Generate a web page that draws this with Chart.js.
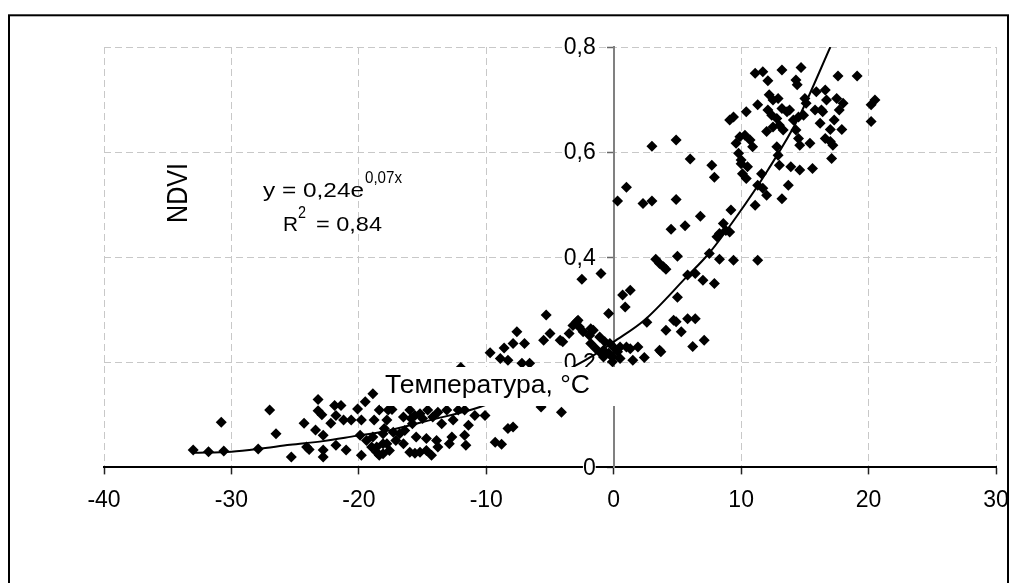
<!DOCTYPE html>
<html>
<head>
<meta charset="utf-8">
<script src="https://cdn.jsdelivr.net/npm/chart.js@4.4.1/dist/chart.umd.min.js"></script>
<style>
  html, body { margin: 0; padding: 0; background: #fff; }
  canvas { display: block; }
</style>
</head>
<body>
<canvas id="grafico" width="1017" height="583"></canvas>
<script>
// pontos: temperatura (°C) e NDVI
const temperatura = [
  -33.0, -31.8, -30.6, -30.8, -27.9, -27.0, -26.5, -25.3, -24.3, -24.1, -23.9, -23.4, -23.2, -23.2,
  -22.9, -22.8, -22.8, -22.8, -22.2, -21.9, -21.4, -21.8, -21.2, -21.8, -21.0, -20.6, -20.1, -19.8,
  -19.5, -18.9, -19.9, -19.8, -19.4, -19.0, -18.6, -18.8, -18.4, -17.7, -17.4, -18.1, -18.1, -18.4,
  -17.6, -17.1, -16.8, -16.4, -16.5, -16.5, -15.9, -15.6, -16.0, -15.6, -15.2, -16.0, -15.2, -14.6,
  -13.8, -13.1, -12.2, -11.7, -10.9, -10.1, -17.8, -15.8, -15.0, -14.2, -13.5, -12.6, -11.4, -18.9,
  -18.0, -17.3, -17.8, -15.5, -14.7, -13.9, -12.7, -11.7, -11.6, -18.6, -18.1, -14.7, -14.3, -13.8,
  -12.9, -9.3, -8.8, -8.3, -7.9, -5.7, -4.1, -12.0,
  -5.3, -7.6, -7.9, -7.0, -8.6, -9.7, -8.9, -8.3, -7.2, -6.6, -5.0, -5.5, -4.2, -4.0,
  -3.2, -2.8, -2.7, -3.5, -2.4, -1.9, -1.8, -1.1, -0.4, -0.8, -0.4, -0.1, 0.1, -2.9,
  -1.8, -0.7, -1.0, -0.1, -2.5, -1.0, -1.6, -1.4, -0.3,
  0.7, 1.3, 0.9, 0.5, 1.0, 1.3, 1.9, 0.5, 1.5, 2.4, 2.6, 3.6, 3.7, 4.1, 4.7, 4.9, 5.3, 5.8,
  6.4, 5.0, 5.8, 6.4, 7.0, 7.9, 6.2, 7.1, 0.3, -0.8, 1.0, 0.3, 2.3, 3.0, 4.9, 6.8, 5.6, 4.5,
  3.3, 3.6, 3.9, 4.1, 5.0, 7.5, 8.3, 9.4, 11.3, 8.1, 8.3, 8.6, 8.8, 9.1, 9.2, 7.9, 7.7, 10.0,
  10.4, 10.5, 11.1, 11.3, 11.7, 11.6, 12.0, 3.0, 4.9, 6.0,
  9.1, 9.4, 10.4, 9.6, 9.9, 10.3, 9.8, 10.0, 10.7, 10.9, 11.1, 11.7, 13.2, 14.7, 12.1, 14.3,
  14.4, 17.6, 19.1, 12.2, 12.5, 12.9, 13.2, 12.1, 11.3, 15.0, 15.1, 15.9, 16.6, 16.7, 17.5, 18.0,
  17.7, 20.5, 20.2, 20.2, 13.8, 13.6, 12.8, 12.4, 13.0, 12.5, 12.0, 13.3, 14.1, 14.5, 14.9, 14.3,
  14.5, 14.6, 15.8, 16.3, 16.4, 17.3, 17.0, 16.2, 17.9, 15.4, 16.6, 17.0, 17.2, 17.1, 12.8, 12.9,
  10.1, 13.0, 13.9, 14.6, 15.6, 13.7, 13.2
]

const ndvi = [
  0.033, 0.030, 0.031, 0.086, 0.035, 0.109, 0.064, 0.020, 0.084, 0.039, 0.034, 0.071, 0.129, 0.108,
  0.100, 0.061, 0.033, 0.020, 0.084, 0.118, 0.118, 0.099, 0.090, 0.042, 0.033, 0.090, 0.111, 0.090,
  0.125, 0.140, 0.061, 0.023, 0.051, 0.039, 0.029, 0.090, 0.109, 0.109, 0.110, 0.064, 0.045, 0.023,
  0.032, 0.051, 0.064, 0.070, 0.045, 0.096, 0.093, 0.099, 0.029, 0.027, 0.029, 0.109, 0.102, 0.109,
  0.105, 0.109, 0.109, 0.109, 0.099, 0.099, 0.090, 0.083, 0.093, 0.096, 0.083, 0.090, 0.080, 0.058,
  0.074, 0.067, 0.045, 0.058, 0.055, 0.051, 0.058, 0.061, 0.042, 0.039, 0.026, 0.032, 0.023, 0.039,
  0.045, 0.048, 0.044, 0.074, 0.077, 0.115, 0.105, 0.190,
  0.290, 0.258, 0.236, 0.236, 0.227, 0.218, 0.207, 0.204, 0.198, 0.198, 0.255, 0.242, 0.242, 0.239,
  0.270, 0.280, 0.267, 0.255, 0.258, 0.251, 0.236, 0.248, 0.293, 0.223, 0.217, 0.210, 0.226, 0.277,
  0.264, 0.239, 0.217, 0.201, 0.358, 0.369, 0.261, 0.226, 0.236,
  0.328, 0.337, 0.305, 0.229, 0.229, 0.226, 0.229, 0.207, 0.204, 0.209, 0.276, 0.223, 0.220, 0.261, 0.280, 0.277, 0.258, 0.283,
  0.283, 0.324, 0.366, 0.369, 0.356, 0.350, 0.230, 0.242, 0.220, 0.210, 0.533, 0.507, 0.502, 0.507, 0.510, 0.478, 0.460, 0.453,
  0.396, 0.388, 0.382, 0.377, 0.402, 0.407, 0.396, 0.394, 0.394, 0.439, 0.445, 0.464, 0.451, 0.448, 0.490, 0.552, 0.575, 0.578,
  0.550, 0.572, 0.499, 0.537, 0.531, 0.559, 0.518, 0.611, 0.623, 0.587,
  0.661, 0.667, 0.677, 0.617, 0.629, 0.632, 0.598, 0.585, 0.623, 0.610, 0.750, 0.753, 0.756, 0.761, 0.736, 0.737,
  0.728, 0.745, 0.745, 0.709, 0.699, 0.702, 0.683, 0.680, 0.690, 0.702, 0.693, 0.715, 0.718, 0.699, 0.702, 0.693,
  0.680, 0.699, 0.690, 0.658, 0.680, 0.677, 0.664, 0.670, 0.651, 0.648, 0.639, 0.642, 0.661, 0.667, 0.670, 0.642,
  0.626, 0.613, 0.680, 0.680, 0.677, 0.661, 0.643, 0.655, 0.643, 0.617, 0.626, 0.620, 0.613, 0.588, 0.610, 0.594,
  0.559, 0.575, 0.572, 0.566, 0.569, 0.537, 0.511
]

const tendenciaX = [-33, -30, -27.9, -25.4, -22.8, -20.2, -18.1, -14.4, -10.5, -3.3, -1.4, 0, 2.4, 5.7, 7.5, 9.6, 12.1, 14.5, 17.0]
const tendenciaY = [0.028, 0.030, 0.035, 0.043, 0.050, 0.060, 0.068, 0.090, 0.115, 0.190, 0.216, 0.239, 0.280, 0.362, 0.408, 0.476, 0.566, 0.665, 0.800]

const ticksX = [-40, -30, -20, -10, 0, 10, 20, 30]
const ticksY = [0, 0.2, 0.4, 0.6, 0.8]

const FONTE = "'Liberation Sans', Arial, sans-serif"

function rotuloY(v) {
  return v === 0 ? '0' : v.toFixed(1).replace('.', ',')
}

function textoAjustado(ctx, texto, x, y, largura, fonte) {
  ctx.font = fonte
  const w = ctx.measureText(texto).width
  ctx.save()
  ctx.translate(x, y)
  ctx.scale(largura / w, 1)
  ctx.fillText(texto, 0, 0)
  ctx.restore()
}

const anotacoes = {
  id: 'anotacoes',
  // rótulos do eixo Y ficam à esquerda do eixo em x = 0, com fundo branco
  beforeDatasetsDraw(chart) {
    const { ctx, scales: { x, y } } = chart
    const eixo = x.getPixelForValue(0)
    ctx.save()
    ctx.font = `23px ${FONTE}`
    ctx.textAlign = 'right'
    ctx.textBaseline = 'middle'
    y.ticks.forEach((t) => {
      const texto = rotuloY(t.value)
      const py = y.getPixelForValue(t.value)
      const w = ctx.measureText(texto).width
      ctx.fillStyle = '#fff'
      ctx.fillRect(eixo - 18 - w, py - 9, w, 18)
      ctx.fillStyle = '#000'
      ctx.fillText(texto, eixo - 18, py + 1)
    })
    ctx.restore()
  },
  afterDatasetsDraw(chart) {
    const { ctx } = chart
    ctx.save()
    ctx.textAlign = 'left'
    ctx.textBaseline = 'alphabetic'

    // caixa do título do eixo X, sobre os pontos
    ctx.fillStyle = '#fff'
    ctx.fillRect(380, 367, 239, 39)
    ctx.fillStyle = '#000'
    textoAjustado(ctx, 'Температура, °C', 385, 393, 205, `25px ${FONTE}`)

    // equação
    textoAjustado(ctx, 'y = 0,24e', 263, 197, 101, `21px ${FONTE}`)
    textoAjustado(ctx, '0,07x', 365, 183, 37, `16px ${FONTE}`)
    textoAjustado(ctx, 'R', 283, 231, 15, `21px ${FONTE}`)
    textoAjustado(ctx, '2', 298, 218, 8, `16px ${FONTE}`)
    textoAjustado(ctx, '= 0,84', 316, 231, 66, `21px ${FONTE}`)

    // título do eixo Y
    ctx.save()
    ctx.translate(186.5, 223)
    ctx.rotate(-Math.PI / 2)
    textoAjustado(ctx, 'NDVI', 0, 0, 60, `29px ${FONTE}`)
    ctx.restore()

    ctx.restore()
  },
  afterDraw(chart) {
    const { ctx } = chart
    ctx.save()
    ctx.strokeStyle = '#000'
    ctx.lineWidth = 2
    ctx.strokeRect(9, 15.3, 999, 600)
    ctx.restore()
  }
}

const pontos = temperatura.map((t, i) => ({ x: t, y: ndvi[i] }))
const tendencia = tendenciaX.map((t, i) => ({ x: t, y: tendenciaY[i] }))

new Chart(document.getElementById('grafico'), {
  type: 'scatter',
  data: {
    datasets: [
      {
        label: 'Тренд',
        data: tendencia,
        showLine: true,
        borderColor: '#000',
        borderWidth: 2,
        pointRadius: 0,
        cubicInterpolationMode: 'monotone',
        fill: false
      },
      {
        label: 'NDVI',
        data: pontos,
        pointStyle: 'rectRot',
        pointRadius: 5.5,
        backgroundColor: '#000',
        borderColor: '#000',
        borderWidth: 0
      }
    ]
  },
  options: {
    responsive: false,
    animation: false,
    devicePixelRatio: 1,
    layout: { padding: { left: 104, right: 21, top: 47, bottom: 57 } },
    plugins: {
      legend: { display: false },
      tooltip: { enabled: false }
    },
    scales: {
      x: {
        type: 'linear',
        position: 'bottom',
        min: -40,
        max: 30,
        afterBuildTicks: (scale) => { scale.ticks = ticksX.map((v) => ({ value: v })) },
        // o rótulo "30" não deve empurrar a área do gráfico
        afterFit: (scale) => {
          scale.paddingRight = 0
          scale.paddingLeft = 0
        },
        grid: {
          color: '#c8c8c8',
          lineWidth: 1,
          tickLength: 7,
          tickColor: '#222',
          tickWidth: 1.5,
          tickBorderDash: []
        },
        border: { color: '#000', width: 2, dash: [7, 4] },
        ticks: {
          color: '#000',
          padding: 12,
          maxRotation: 0,
          font: { family: FONTE, size: 23 },
          callback: (v) => String(v)
        }
      },
      y: {
        type: 'linear',
        position: { x: 0 },
        min: 0,
        max: 0.8,
        afterBuildTicks: (scale) => { scale.ticks = ticksY.map((v) => ({ value: v })) },
        grid: {
          color: '#c8c8c8',
          lineWidth: 1,
          tickLength: 6,
          tickColor: '#666',
          tickWidth: 1.5,
          tickBorderDash: []
        },
        border: { color: '#808080', width: 2, dash: [7, 4] },
        ticks: { display: false }
      }
    }
  },
  plugins: [anotacoes]
})
</script>
</body>
</html>
